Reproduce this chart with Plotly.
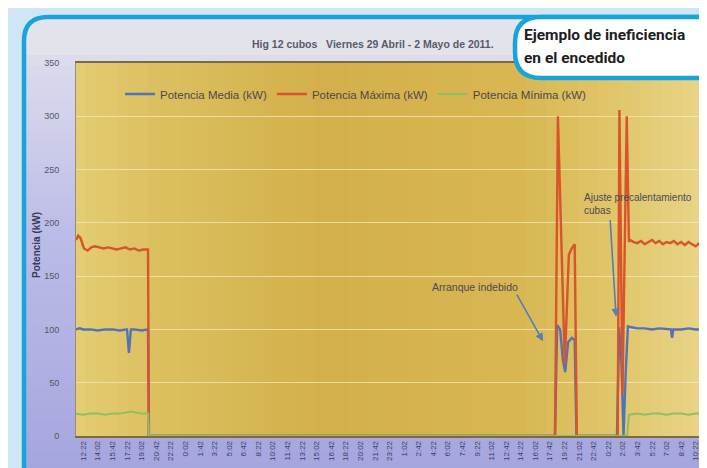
import plotly.graph_objects as go

# ---------------- data ----------------
x_labels = ["12:22", "14:02", "15:42", "17:22", "19:02", "20:42", "22:22", "0:02", "1:42", "3:22",
            "5:02", "6:42", "8:22", "10:02", "11:42", "13:22", "15:02", "16:42", "18:22", "20:02",
            "21:42", "23:22", "1:02", "2:42", "4:22", "6:02", "7:42", "9:22", "11:02", "12:42",
            "14:22", "16:02", "17:42", "19:22", "21:02", "22:42", "0:22", "2:02", "3:42", "5:22",
            "7:02", "8:42", "10:22"]

media_x = [-0.5, -0.25, 0.0, 0.5, 1.0, 1.5, 2.0, 2.5, 3.0, 3.13, 3.26, 3.5, 4.0, 4.44, 4.5,
           32.35, 32.5, 32.7, 32.9, 33.05, 33.25, 33.5, 33.7, 33.82, 36.6, 36.75, 36.9, 37.05,
           37.2, 37.35, 37.6, 38.0, 38.5, 39.0, 39.5, 40.0, 40.3, 40.38, 40.46, 41.0, 41.5,
           42.0, 42.36, 42.44, 42.5]
media_y = [100, 101, 100, 100, 99, 100, 100, 99, 100, 78, 100, 100, 99, 100, 0,
           0, 104, 100, 70, 60, 88, 92, 90, 0, 0, 102, 70, 0,
           60, 103, 102, 101, 101, 100, 101, 100, 100, 92, 100, 100, 101,
           100, 100, 92, 99]

maxima_x = [-0.5, -0.35, -0.2, 0.05, 0.3, 0.55, 0.8, 1.1, 1.4, 1.7, 2.0, 2.3, 2.6, 2.9,
            3.2, 3.5, 3.8, 4.1, 4.44, 4.5,
            32.35, 32.55, 33.02, 33.3, 33.5, 33.7, 33.85,
            36.65, 36.77, 36.98, 37.27, 37.42, 37.5, 37.75, 38.0, 38.25, 38.5, 38.75, 39.0,
            39.25, 39.5, 39.75, 40.0, 40.25, 40.5, 40.75, 41.0, 41.25, 41.5, 41.75, 42.0,
            42.25, 42.5]
maxima_y = [184, 188, 186, 176, 174, 177, 178, 177, 176, 177, 176, 175, 176, 177,
            175, 176, 174, 175, 175, 0,
            0, 300, 67, 170, 176, 180, 0,
            0, 306, 40, 300, 182, 184, 182, 181, 183, 180, 182, 184,
            181, 183, 180, 182, 181, 183, 180, 182, 179, 182, 180, 178,
            181, 179]

minima_x = [-0.5, 0.0, 0.5, 1.0, 1.5, 2.0, 2.5, 3.0, 3.3, 3.6, 4.0, 4.44, 4.5,
            37.3, 37.42, 38.0, 38.5, 39.0, 39.5, 40.0, 40.5, 41.0, 41.5, 42.0, 42.5]
minima_y = [21, 20, 21, 21, 20, 21, 21, 22, 23, 22, 21, 21, 0,
            0, 20, 21, 20, 21, 21, 20, 21, 21, 20, 21, 21]

y_ticks = [0, 50, 100, 150, 200, 250, 300, 350]

# ---------------- geometry helpers (pixels -> paper) ----------------
L, R, T, B = 68, 695, 55, 428
W, H = 707, 468


def PX(px):
    return (px - L) / (R - L)


def PY(py):
    return (B - py) / (B - T)


def hexrgb(h):
    h = h.lstrip("#")
    return tuple(int(h[i:i + 2], 16) for i in (0, 2, 4))


def lerp_color(stops, t):
    for (t0, c0), (t1, c1) in zip(stops, stops[1:]):
        if t0 <= t <= t1:
            f = (t - t0) / (t1 - t0) if t1 > t0 else 0
            a, b = hexrgb(c0), hexrgb(c1)
            return "rgb(%d,%d,%d)" % tuple(round(a[i] + (b[i] - a[i]) * f) for i in range(3))
    return stops[-1][1]


shapes = []

# outer lavender area (rounded top-left corner)
fr_l, fr_t, fr_r, fr_b, rad = 16, 9, 712, 476, 24
path_fill = (f"M {PX(fr_l)},{PY(fr_t + rad)} Q {PX(fr_l)},{PY(fr_t)} {PX(fr_l + rad)},{PY(fr_t)} "
             f"L {PX(fr_r)},{PY(fr_t)} L {PX(fr_r)},{PY(fr_t + 40)} L {PX(fr_l)},{PY(fr_t + 40)} Z")
shapes.append(dict(type="path", path=path_fill, xref="paper", yref="paper",
                   fillcolor="#e3e3ec", line=dict(width=0), layer="below"))

bg_stops = [(0, "#e3e3ec"), (0.12, "#d8d8ec"), (0.45, "#bcbce8"), (1.0, "#a4a4de")]
n_bands = 40
y_start = fr_t + 38
for i in range(n_bands):
    y0 = y_start + (fr_b - y_start) * i / n_bands
    y1 = y_start + (fr_b - y_start) * (i + 1) / n_bands + 0.6
    t = (y0 - fr_t) / (fr_b - fr_t)
    shapes.append(dict(type="rect", xref="paper", yref="paper", x0=PX(fr_l), x1=PX(fr_r),
                       y0=PY(y1), y1=PY(y0), fillcolor=lerp_color(bg_stops, t),
                       line=dict(width=0), layer="below"))

# bottom-right corner mask
br = 38
shapes.append(dict(type="path", xref="paper", yref="paper", layer="below",
                   path=f"M {PX(fr_r - 4)},{PY(fr_b - br)} Q {PX(fr_r - 4)},{PY(fr_b - 4)} {PX(fr_r - 4 - br)},{PY(fr_b - 4)} "
                        f"L {PX(W + 20)},{PY(fr_b)} L {PX(W + 20)},{PY(fr_b - br)} Z",
                   fillcolor="#cfe7f4", line=dict(width=0)))

# plot-area gold gradient (horizontal)
plot_stops = [(0, "#e4cd72"), (0.12, "#dcc060"), (0.4, "#d3b04a"), (0.7, "#d8b652"),
              (0.85, "#e0c568"), (1.0, "#e8d488")]
n_cols = 60
for i in range(n_cols):
    x0 = i / n_cols
    x1 = (i + 1) / n_cols + 0.002
    shapes.append(dict(type="rect", xref="paper", yref="paper", x0=x0, x1=min(x1, 1), y0=0, y1=1,
                       fillcolor=lerp_color(plot_stops, x0 + 0.5 / n_cols),
                       line=dict(width=0), layer="below"))

# blue frame
frame = (f"M {PX(fr_l)},{PY(fr_b + 10)} L {PX(fr_l)},{PY(fr_t + rad)} "
         f"Q {PX(fr_l)},{PY(fr_t)} {PX(fr_l + rad)},{PY(fr_t)} L {PX(fr_r)},{PY(fr_t)}")
shapes.append(dict(type="path", xref="paper", yref="paper", path=frame,
                   line=dict(color="#19a3db", width=4.5), layer="above"))
frame_br = (f"M {PX(fr_r - 4)},{PY(fr_b - br - 20)} L {PX(fr_r - 4)},{PY(fr_b - br)} "
            f"Q {PX(fr_r - 4)},{PY(fr_b - 4)} {PX(fr_r - 4 - br)},{PY(fr_b - 4)}")
shapes.append(dict(type="path", xref="paper", yref="paper", path=frame_br,
                   line=dict(color="#19a3db", width=4.5), layer="above"))

# callout box
cl, ct, cb = 507, 9, 70
callout = (f"M {PX(cl + 26)},{PY(ct)} L {PX(W + 20)},{PY(ct)} L {PX(W + 20)},{PY(cb)} "
           f"L {PX(cl + 26)},{PY(cb)} Q {PX(cl)},{PY(cb)} {PX(cl)},{PY(cb - 26)} "
           f"L {PX(cl)},{PY(ct + 26)} Q {PX(cl)},{PY(ct)} {PX(cl + 26)},{PY(ct)} Z")
shapes.append(dict(type="path", xref="paper", yref="paper", path=callout,
                   fillcolor="white", line=dict(color="#19a3db", width=4.5), layer="above"))

# ---------------- figure ----------------
fig = go.Figure()
fig.add_trace(go.Scatter(x=media_x, y=media_y, mode="lines", name="Potencia Media (kW)",
                         line=dict(color="#5074b6", width=2.4)))
fig.add_trace(go.Scatter(x=maxima_x, y=maxima_y, mode="lines", name="Potencia Máxima (kW)",
                         line=dict(color="#d9532b", width=2.4)))
fig.add_trace(go.Scatter(x=minima_x, y=minima_y, mode="lines", name="Potencia Mínima (kW)",
                         line=dict(color="#8cc063", width=2.0)))

small_font = "Liberation Sans, Arial, sans-serif"
callout_font = dict(family="Roboto, Liberation Sans, sans-serif", size=15.5, color="#1e1e1e")
note_font = dict(family=small_font, size=10, color="#4a4a5a")
arrow_style = dict(showarrow=True, arrowhead=2, arrowsize=1, arrowwidth=1.6, arrowcolor="#5a7ab8")

annotations = [
    dict(text="<b>Hig 12 cubos   Viernes 29 Abril - 2 Mayo de 2011.</b>", xref="paper", yref="paper",
         x=PX(365), y=PY(36), showarrow=False, xanchor="center", yanchor="middle",
         font=dict(family=small_font, size=10.5, color="#5a5a6a")),
    dict(text="<b>Potencia (kW)</b>", xref="paper", yref="paper", x=PX(28), y=PY(237), textangle=-90,
         showarrow=False, xanchor="center", yanchor="middle",
         font=dict(family=small_font, size=10, color="#3a3a5a")),
    # note texts
    dict(text="Arranque indebido", xref="paper", yref="paper", x=PX(422), y=PY(279),
         xanchor="left", yanchor="middle", showarrow=False,
         font=dict(family=small_font, size=10.5, color="#4a4a5a")),
    dict(text="Ajuste precalentamiento<br>cubas", xref="paper", yref="paper", x=PX(574), y=PY(182),
         xanchor="left", yanchor="top", align="left", showarrow=False, font=note_font),
    # arrows
    dict(text="", x=31.53, y=89, xref="x", yref="y", ax=-27, ay=-48, **arrow_style),
    dict(text="", x=36.54, y=112, xref="x", yref="y", ax=-6, ay=-98, **arrow_style),
    # callout text
    dict(text="<b>Ejemplo de ineficiencia</b>", xref="paper", yref="paper",
         x=PX(514), y=PY(27), xanchor="left", yanchor="middle", showarrow=False, font=callout_font),
    dict(text="<b>en el encedido</b>", xref="paper", yref="paper",
         x=PX(514), y=PY(50), xanchor="left", yanchor="middle", showarrow=False, font=callout_font),
]

fig.update_layout(
    width=W, height=H, autosize=False,
    margin=dict(l=L, r=W - R, t=T, b=H - B),
    paper_bgcolor="#cfe7f4",
    plot_bgcolor="rgba(0,0,0,0)",
    shapes=shapes,
    annotations=annotations,
    showlegend=True,
    legend=dict(orientation="h", x=PX(112), y=PY(86), xanchor="left", yanchor="middle",
                bgcolor="rgba(0,0,0,0)", font=dict(family=small_font, size=11.5, color="#4a4a4a"),
                itemwidth=30),
    xaxis=dict(range=[-0.5, 42.5], tickmode="array", tickvals=list(range(len(x_labels))),
               ticktext=x_labels, tickangle=-90, showgrid=False, zeroline=False,
               tickfont=dict(family=small_font, size=8, color="#3d3d66"),
               showline=True, linecolor="#7a6a48", linewidth=1.5, mirror=True, ticks=""),
    yaxis=dict(range=[0, 350], tickvals=y_ticks, showgrid=True, gridcolor="rgba(245,235,190,0.7)",
               gridwidth=1, zeroline=False, ticks="", ticklabelstandoff=14,
               tickfont=dict(family=small_font, size=9, color="#555566"),
               showline=True, linecolor="#9a8e70", linewidth=1, mirror=True),
)

fig.write_html("out.html")
